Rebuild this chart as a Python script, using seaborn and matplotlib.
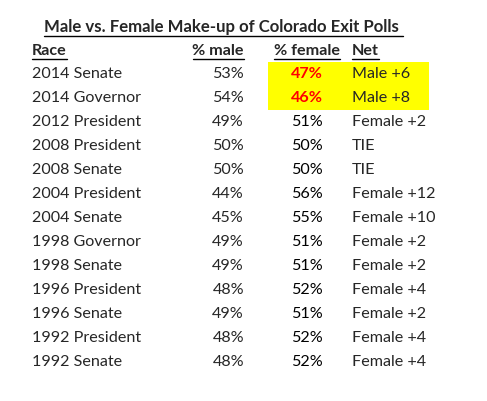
import matplotlib
matplotlib.use('Agg')
import matplotlib.pyplot as plt
import seaborn as sns

title = 'Male vs. Female Make-up of Colorado Exit Polls'
headers = ['Race', '% male', '% female', 'Net']
races = ['2014 Senate', '2014 Governor', '2012 President', '2008 President',
         '2008 Senate', '2004 President', '2004 Senate', '1998 Governor',
         '1998 Senate', '1996 President', '1996 Senate', '1992 President',
         '1992 Senate']
pct_male = [53, 54, 49, 50, 50, 44, 45, 49, 49, 48, 49, 48, 48]
pct_female = [47, 46, 51, 50, 50, 56, 55, 51, 51, 52, 51, 52, 52]
net = ['Male +6', 'Male +8', 'Female +2', 'TIE', 'TIE', 'Female +12',
       'Female +10', 'Female +2', 'Female +2', 'Female +4', 'Female +2',
       'Female +4', 'Female +4']
highlight = [0, 1]  # rows shaded yellow

sns.set_theme(style='white')
plt.rcParams['font.family'] = ['Lato', 'DejaVu Sans']

fig = plt.figure(figsize=(4.87, 4.01), dpi=100)
ax = fig.add_axes([0, 0, 1, 1])
ax.set_xlim(0, 487)
ax.set_ylim(401, 0)
ax.axis('off')

fs = 11.6
row0, step = 74, 24
col_race, col_male, col_fem, col_net = 32, 244, 323, 352

# yellow shading behind the highlighted rows
for i in highlight:
    ax.add_patch(plt.Rectangle((268, row0 + step * i - step / 2), 161, step,
                               color='yellow', lw=0, zorder=0))

underlined = []
t = ax.text(44, 27, title, fontsize=12.1, fontweight='bold', va='center', ha='left')
underlined.append(t)
hdr = [(col_race, 'left'), (col_male, 'right'), (340, 'right'), (col_net, 'left')]
for (x, ha), h in zip(hdr, headers):
    underlined.append(ax.text(x, 51, h, fontsize=fs, fontweight='bold', va='center', ha=ha))

for i, r in enumerate(races):
    y = row0 + step * i
    red = i in highlight
    ax.text(col_race, y, r, fontsize=fs, va='center', ha='left')
    ax.text(col_male, y, f'{pct_male[i]}%', fontsize=fs, va='center', ha='right')
    ax.text(col_fem, y, f'{pct_female[i]}%', fontsize=fs, va='center', ha='right',
            color='red' if red else 'black', fontweight='bold' if red else 'normal')
    ax.text(col_net, y, net[i], fontsize=fs, va='center', ha='left')

# underline title and headers
fig.canvas.draw()
inv = ax.transData.inverted()
for t in underlined:
    bb = t.get_window_extent()
    (x0, y0), (x1, y1) = inv.transform([(bb.x0, bb.y0), (bb.x1, bb.y1)])
    ax.plot([x0, x1 + (4 if t is underlined[0] else 0)], [y0 + 1, y0 + 1], color='black', lw=1)

fig.savefig('out.png', dpi=100)
